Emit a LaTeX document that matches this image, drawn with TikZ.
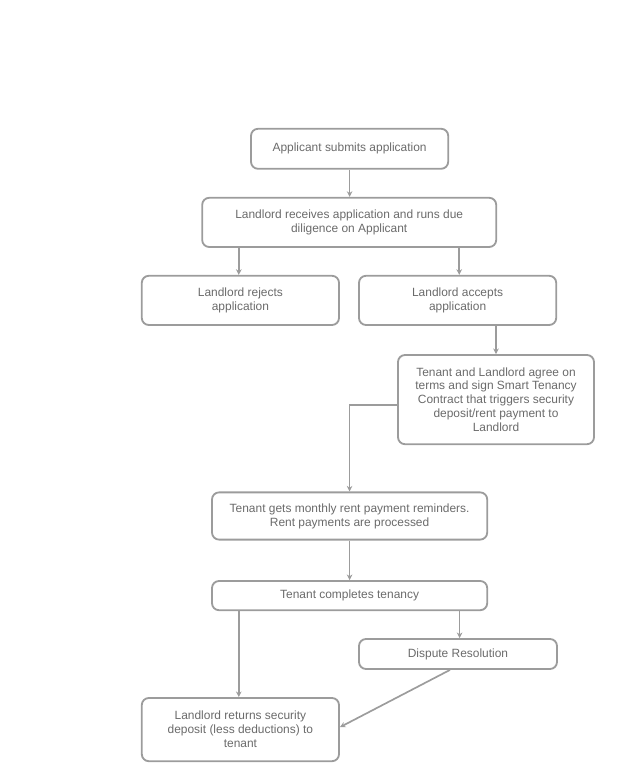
\documentclass[tikz,border=0pt]{standalone}
\usepackage{fontspec}
\setmainfont{Liberation Sans}
\usepackage{tikz}
\usetikzlibrary{arrows.meta,positioning}

\definecolor{boxgray}{HTML}{9C9C9C}
\definecolor{txtgray}{HTML}{6A6A6A}

\begin{document}
\begin{tikzpicture}[
  >=Stealth,
  proc/.style={draw=boxgray, line width=1.3pt, rounded corners=5pt,
               align=center, text=txtgray, inner sep=2pt,
               font=\fontsize{8.5}{9.9}\selectfont},
  flow/.style={draw=boxgray, line width=1.2pt,
               -{Stealth[length=4pt,width=4pt]}},
]
  \useasboundingbox (0,0) rectangle (15.875,19.4);

  %% Applicant submits — top
  \node[proc, minimum width=4.93cm, minimum height=1.0cm] (app) at (8.74, 15.68)
    {Applicant submits application};

  %% Landlord receives — below
  \node[proc, minimum width=7.35cm, minimum height=1.23cm] (rcv) at (8.73, 13.84)
    {Landlord receives application and runs due\\diligence on Applicant};

  %% Reject / accept — side by side
  \node[proc, minimum width=4.93cm, minimum height=1.23cm] (rej) at (6.01, 11.89)
    {Landlord rejects\\application};
  \node[proc, minimum width=4.93cm, minimum height=1.23cm] (acc) at (11.44, 11.89)
    {Landlord accepts\\application};

  %% Contract signing — right
  \node[proc, minimum width=4.90cm, minimum height=2.23cm] (sign) at (12.40, 9.41)
    {Tenant and Landlord agree on\\terms and sign Smart Tenancy\\Contract that triggers security\\deposit/rent payment to\\Landlord};

  %% Rent payments — centre
  \node[proc, minimum width=6.88cm, minimum height=1.18cm] (rent) at (8.74, 6.50)
    {Tenant gets monthly rent payment reminders.\\Rent payments are processed};

  %% Tenancy complete — centre
  \node[proc, minimum width=6.88cm, minimum height=0.73cm] (done) at (8.74, 4.51)
    {Tenant completes tenancy};

  %% Dispute — right
  \node[proc, minimum width=4.95cm, minimum height=0.75cm] (disp) at (11.45, 3.05)
    {Dispute Resolution};

  %% Deposit returned — bottom left
  \node[proc, minimum width=4.93cm, minimum height=1.58cm] (ret) at (6.01, 1.16)
    {Landlord returns security\\deposit (less deductions) to\\tenant};

  %% Connectors
  \draw[flow] (app.south) -- (app.south |- rcv.north);
  \draw[flow] ([xshift=-0.04cm]rcv.south -| rej.north) -- ([xshift=-0.04cm]rej.north);
  \draw[flow] ([xshift=0.04cm]rcv.south -| acc.north) -- ([xshift=0.04cm]acc.north);
  \draw[flow] (acc.south -| sign.north) -- (sign.north);
  \draw[flow] ([yshift=-0.14cm]sign.west) -| (rent.north);
  \draw[flow] (rent.south) -- (done.north);
  \draw[flow] ([xshift=-0.04cm]done.south -| ret.north) -- ([xshift=-0.04cm]ret.north);
  \draw[flow] ([xshift=0.04cm]done.south -| disp.north) -- ([xshift=0.04cm]disp.north);
  \draw[flow] ([xshift=-0.2cm]disp.south) -- ([yshift=0.06cm]ret.east);
\end{tikzpicture}
\end{document}
